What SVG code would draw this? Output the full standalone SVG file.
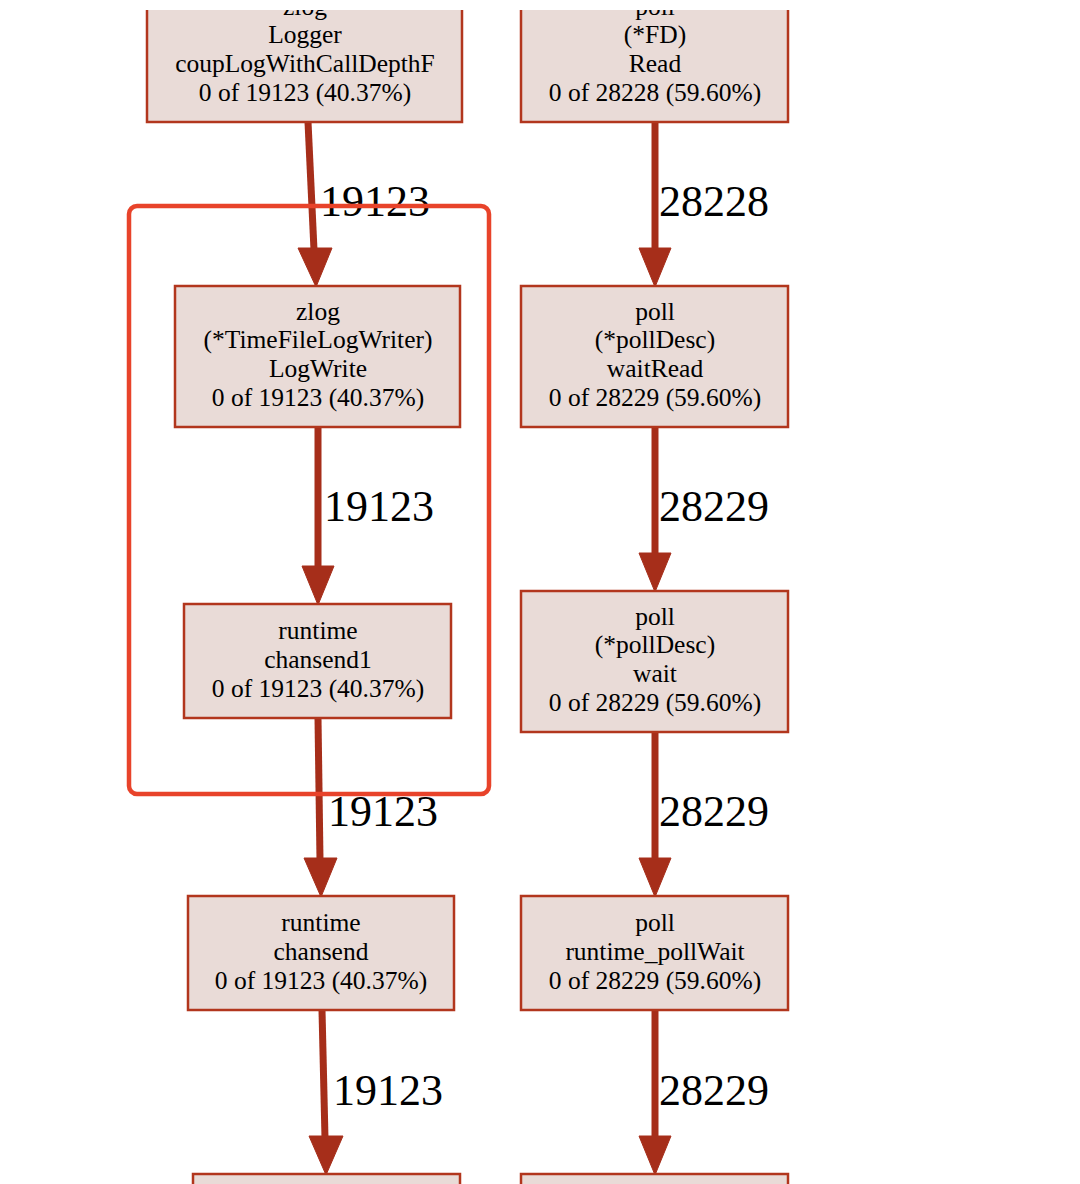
<svg xmlns="http://www.w3.org/2000/svg" width="1080" height="1184" viewBox="0 0 1080 1184">
<style>
.node rect{fill:#e9dbd7;stroke:#b2361d;stroke-width:2.5}
.node text{font-family:"Liberation Serif","Times New Roman",serif;font-size:25.5px;fill:#000;text-anchor:middle}
.edge line,.edge path{stroke:#a62e1a;stroke-width:7;fill:none}
.ah{fill:#a62e1a;stroke:#a62e1a;stroke-width:1}
.elabel{font-family:"Liberation Serif","Times New Roman",serif;font-size:44px;fill:#000}
</style>
<rect x="0" y="0" width="1080" height="1184" fill="#ffffff"/>
<g id="connectors" class="edge">
<line x1="308" y1="122" x2="314" y2="250"/>
<polygon class="ah" points="298,248 332,248 316,287"/>
<text class="elabel" x="320" y="216">19123</text>
<line x1="318" y1="427" x2="318" y2="568"/>
<polygon class="ah" points="302,566 334,566 318,605"/>
<text class="elabel" x="324" y="521">19123</text>
<line x1="318" y1="718" x2="320" y2="860"/>
<polygon class="ah" points="304,858 337,858 321,897"/>
<text class="elabel" x="328" y="826">19123</text>
<line x1="322" y1="1010" x2="325" y2="1138"/>
<polygon class="ah" points="309,1136 343,1136 326,1175"/>
<text class="elabel" x="333" y="1105">19123</text>
<line x1="655" y1="122" x2="655" y2="250"/>
<polygon class="ah" points="639,248 671,248 655,287"/>
<text class="elabel" x="659" y="216">28228</text>
<line x1="655" y1="427" x2="655" y2="555"/>
<polygon class="ah" points="639,553 671,553 655,592"/>
<text class="elabel" x="659" y="521">28229</text>
<line x1="655" y1="732" x2="655" y2="860"/>
<polygon class="ah" points="639,858 671,858 655,897"/>
<text class="elabel" x="659" y="826">28229</text>
<line x1="655" y1="1010" x2="655" y2="1138"/>
<polygon class="ah" points="639,1136 671,1136 655,1175"/>
<text class="elabel" x="659" y="1105">28229</text>
</g>
<g id="n-logger" class="node">
<rect x="147" y="-20" width="315" height="142"/>
<text x="305" y="15">zlog</text>
<text x="305" y="43">Logger</text>
<text x="305" y="72">coupLogWithCallDepthF</text>
<text x="305" y="101">0 of 19123 (40.37%)</text>
</g>
<g id="n-fdread" class="node">
<rect x="521" y="-20" width="267" height="142"/>
<text x="655" y="15">poll</text>
<text x="655" y="43">(*FD)</text>
<text x="655" y="72">Read</text>
<text x="655" y="101">0 of 28228 (59.60%)</text>
</g>
<g id="n-logwrite" class="node">
<rect x="175" y="286" width="285" height="141"/>
<text x="318" y="320">zlog</text>
<text x="318" y="348">(*TimeFileLogWriter)</text>
<text x="318" y="377">LogWrite</text>
<text x="318" y="406">0 of 19123 (40.37%)</text>
</g>
<g id="n-waitread" class="node">
<rect x="521" y="286" width="267" height="141"/>
<text x="655" y="320">poll</text>
<text x="655" y="348">(*pollDesc)</text>
<text x="655" y="377">waitRead</text>
<text x="655" y="406">0 of 28229 (59.60%)</text>
</g>
<g id="n-chansend1" class="node">
<rect x="184" y="604" width="267" height="114"/>
<text x="318" y="639">runtime</text>
<text x="318" y="668">chansend1</text>
<text x="318" y="697">0 of 19123 (40.37%)</text>
</g>
<g id="n-wait" class="node">
<rect x="521" y="591" width="267" height="141"/>
<text x="655" y="625">poll</text>
<text x="655" y="653">(*pollDesc)</text>
<text x="655" y="682">wait</text>
<text x="655" y="711">0 of 28229 (59.60%)</text>
</g>
<g id="n-chansend" class="node">
<rect x="188" y="896" width="266" height="114"/>
<text x="321" y="931">runtime</text>
<text x="321" y="960">chansend</text>
<text x="321" y="989">0 of 19123 (40.37%)</text>
</g>
<g id="n-pollwait" class="node">
<rect x="521" y="896" width="267" height="114"/>
<text x="655" y="931">poll</text>
<text x="655" y="960">runtime_pollWait</text>
<text x="655" y="989">0 of 28229 (59.60%)</text>
</g>
<g id="n-bottom-left" class="node">
<rect x="193" y="1174" width="267" height="60"/>
</g>
<g id="n-bottom-right" class="node">
<rect x="521" y="1174" width="267" height="60"/>
</g>
<rect id="highlight" x="129" y="206" width="360" height="588" rx="8" ry="8" fill="none" stroke="#e8432a" stroke-width="4.5"/>
<rect x="0" y="0" width="1080" height="10" fill="#ffffff"/>
</svg>
